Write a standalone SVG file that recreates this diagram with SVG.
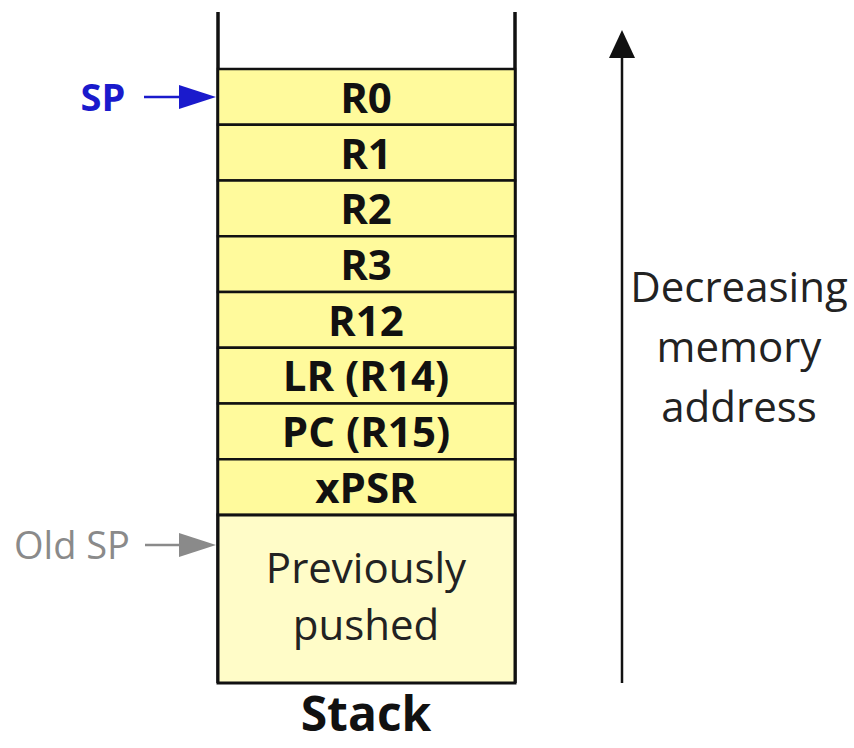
<svg xmlns="http://www.w3.org/2000/svg" width="854" height="748" viewBox="0 0 854 748">
<style>
.row{fill:#FFFA9C;stroke:#111;stroke-width:2.5}
.prev{fill:#FFFCC8;stroke:#111;stroke-width:3}
.wall{stroke:#111;stroke-width:3.5;fill:none}
.lbl{font-family:"Open Sans","Liberation Sans",sans-serif;font-weight:bold;font-size:42px;fill:#111;text-anchor:middle;dominant-baseline:central}
.reg{font-family:"Open Sans","Liberation Sans",sans-serif;font-size:42px;fill:#222;text-anchor:middle}
</style>
<g id="stack">
<line class="wall" x1="218" y1="12" x2="218" y2="683"/>
<line class="wall" x1="515" y1="12" x2="515" y2="683"/>
</g>
<g id="r0"><rect class="row" x="218" y="69" width="297" height="55.75"/><text class="lbl" x="366" y="96">R0</text></g>
<g id="r1"><rect class="row" x="218" y="124.75" width="297" height="55.75"/><text class="lbl" x="366" y="152">R1</text></g>
<g id="r2"><rect class="row" x="218" y="180.5" width="297" height="55.75"/><text class="lbl" x="366" y="207">R2</text></g>
<g id="r3"><rect class="row" x="218" y="236.25" width="297" height="55.75"/><text class="lbl" x="366" y="263">R3</text></g>
<g id="r12"><rect class="row" x="218" y="292" width="297" height="55.75"/><text class="lbl" x="366" y="319">R12</text></g>
<g id="lr"><rect class="row" x="218" y="347.75" width="297" height="55.75"/><text class="lbl" x="366" y="374">LR (R14)</text></g>
<g id="pc"><rect class="row" x="218" y="403.5" width="297" height="55.75"/><text class="lbl" x="366" y="430">PC (R15)</text></g>
<g id="xpsr"><rect class="row" x="218" y="459.25" width="297" height="55.75"/><text class="lbl" x="366" y="486">xPSR</text></g>
<g id="prev"><rect class="prev" x="218" y="515" width="297" height="168"/>
<text class="reg" x="366" y="583">Previously</text><text class="reg" x="366" y="640">pushed</text></g>
<g id="stacklabel"><text x="366" y="731" style="font-family:'Open Sans','Liberation Sans',sans-serif;font-weight:bold;font-size:48px;fill:#111;text-anchor:middle">Stack</text></g>
<g id="sp"><text x="103" y="96" style="font-family:'Open Sans','Liberation Sans',sans-serif;font-weight:bold;font-size:38px;fill:#1A1ACC;text-anchor:middle;dominant-baseline:central">SP</text></g>
<g id="oldsp"><text x="72" y="544" style="font-family:'Open Sans','Liberation Sans',sans-serif;font-size:38px;fill:#8A8A8A;text-anchor:middle;dominant-baseline:central">Old SP</text></g>
<g id="addr"><text class="reg" x="739" y="302">Decreasing</text><text class="reg" x="739" y="362">memory</text><text class="reg" x="739" y="422">address</text></g>
<g id="connectors">
<line x1="144" y1="97" x2="182" y2="97" stroke="#1A1ACC" stroke-width="2.5"/>
<path d="M179,85 L216,97 L179,109 Z" fill="#1A1ACC"/>
<line x1="145" y1="545" x2="182" y2="545" stroke="#8A8A8A" stroke-width="2.5"/>
<path d="M179,533 L216,545 L179,557 Z" fill="#8A8A8A"/>
<line x1="622" y1="683" x2="622" y2="55" stroke="#111" stroke-width="2.5"/>
<path d="M609,58 L622,30 L635,58 Z" fill="#111"/>
</g>
</svg>
